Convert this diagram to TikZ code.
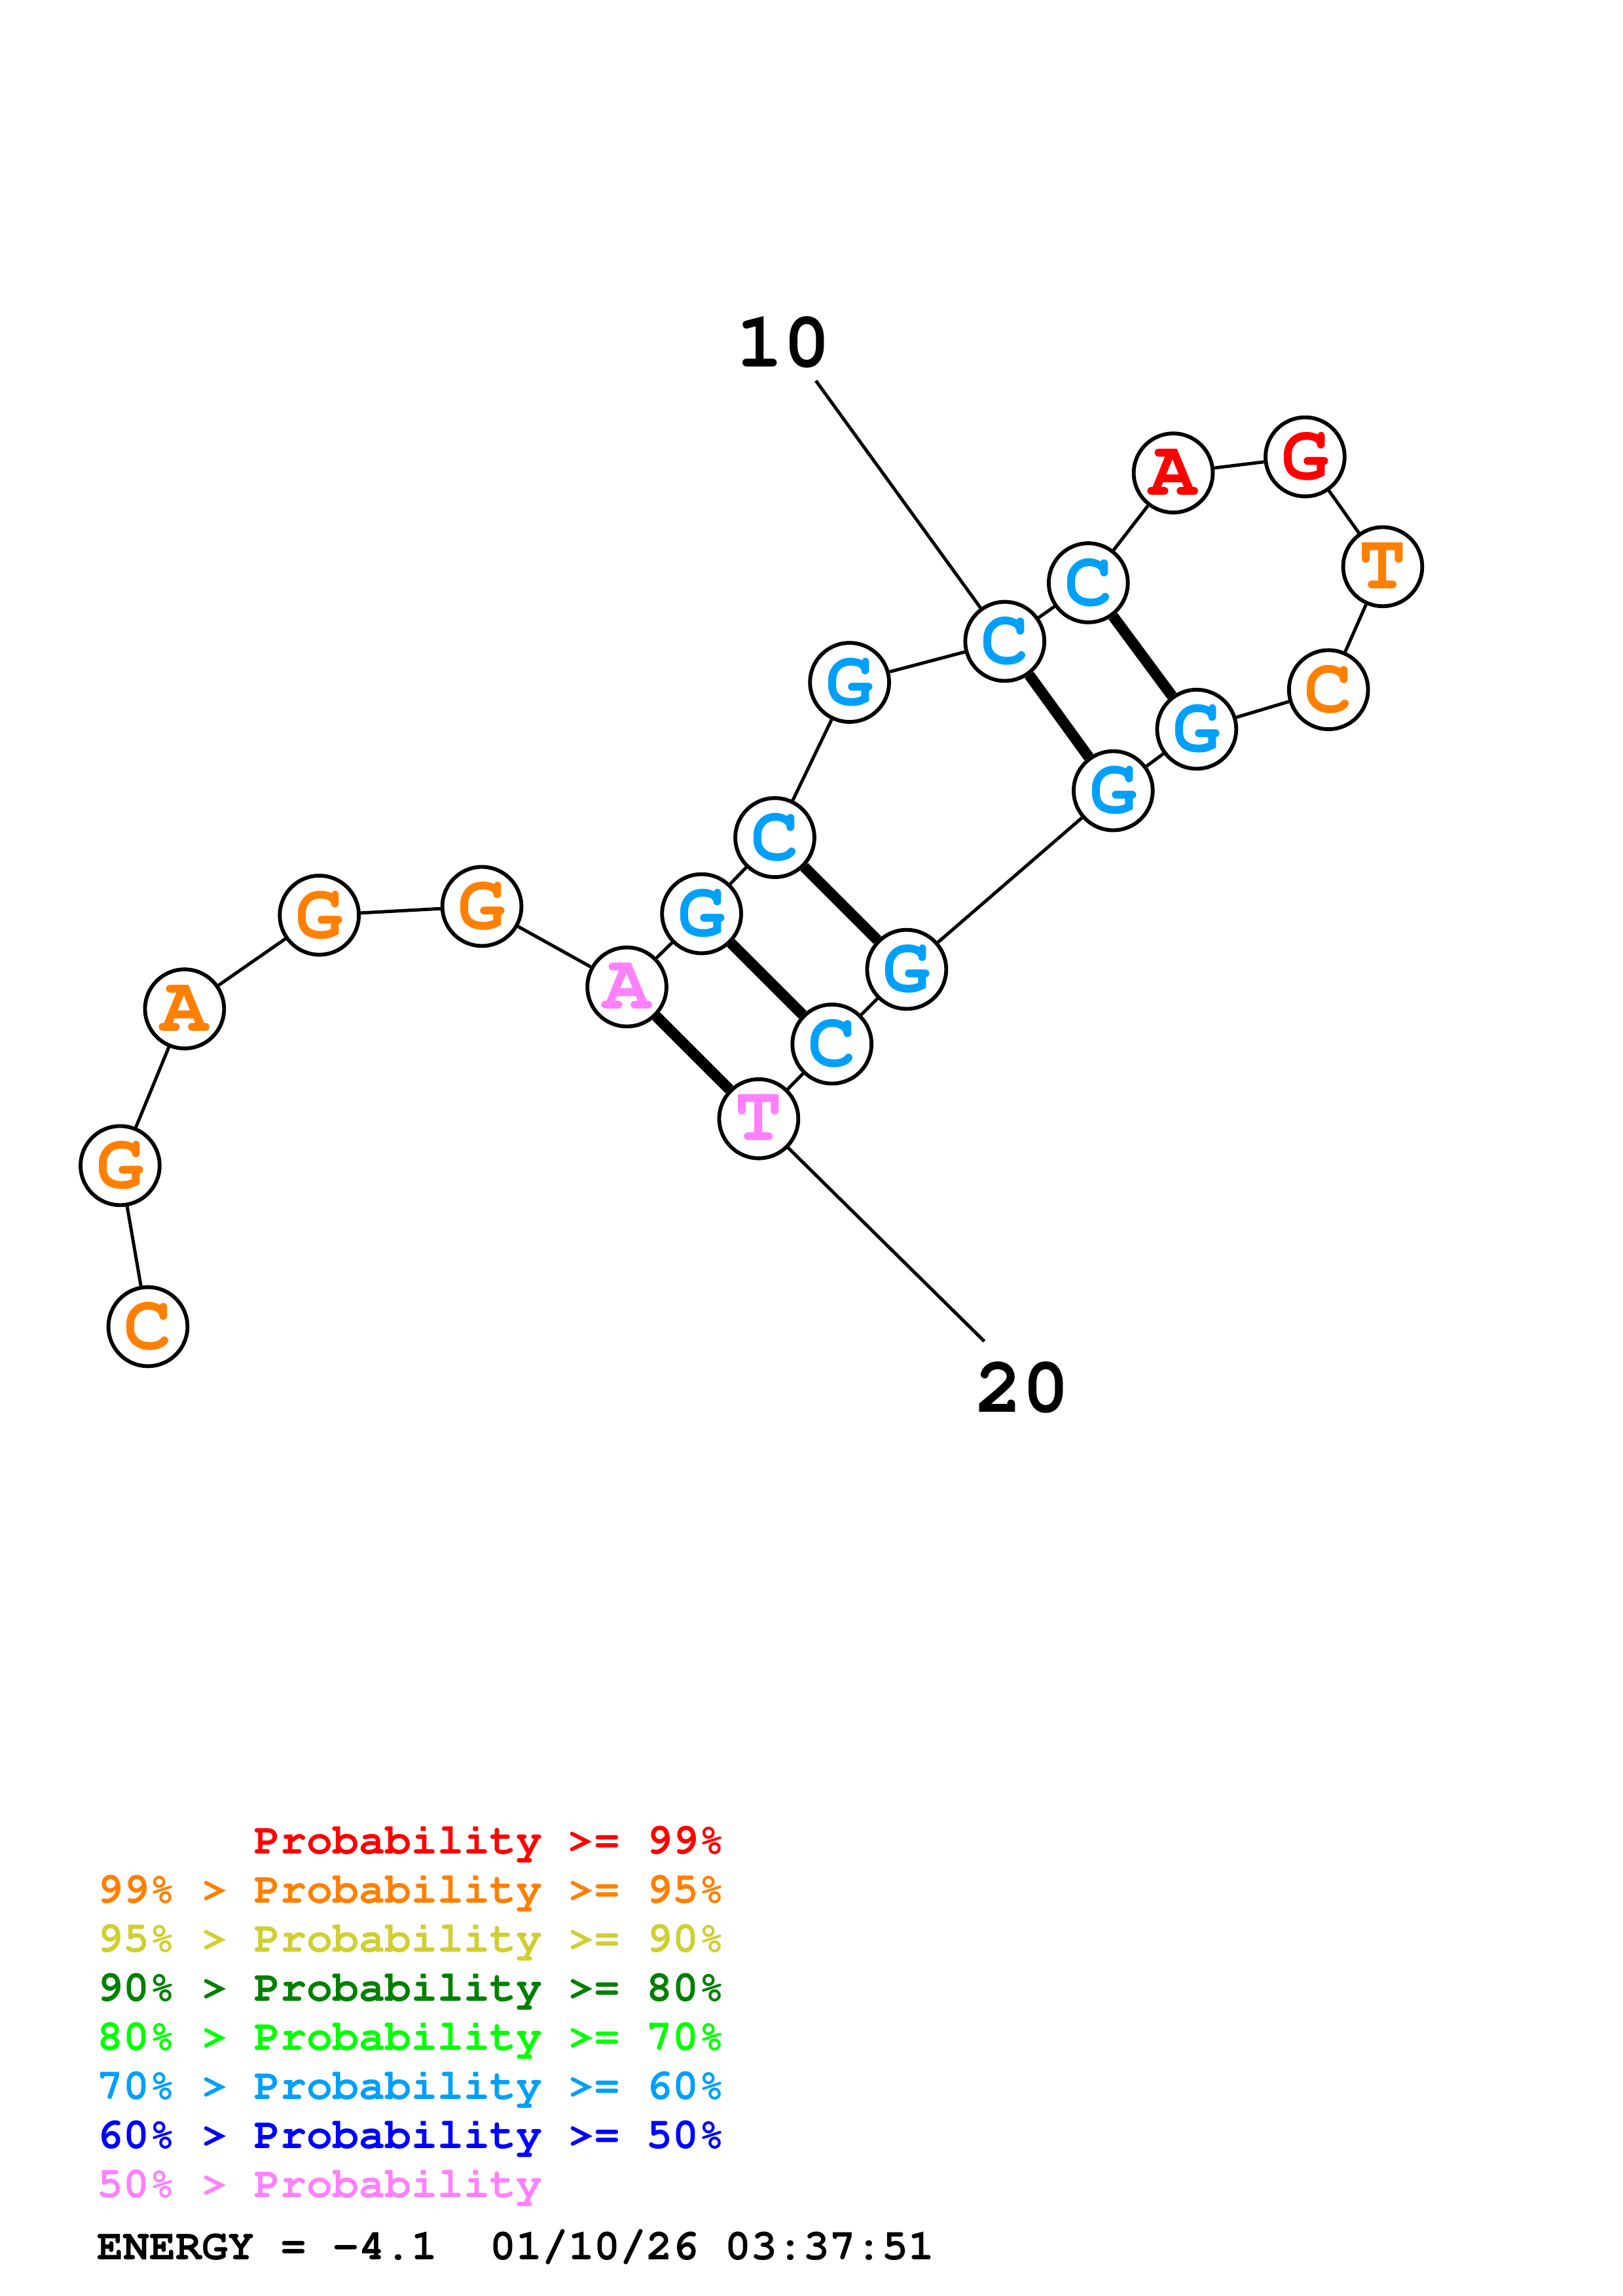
\documentclass[tikz,border=0pt]{standalone}
\usepackage[T1,TU]{fontenc}
\usepackage{tikz}
\definecolor{pA}{RGB}{255,0,0}
\definecolor{pB}{RGB}{255,128,0}
\definecolor{pC}{RGB}{207,207,51}
\definecolor{pD}{RGB}{0,128,0}
\definecolor{pE}{RGB}{0,255,0}
\definecolor{pF}{RGB}{0,160,250}
\definecolor{pG}{RGB}{0,0,255}
\definecolor{pH}{RGB}{255,128,255}
\newcommand{\cour}[1]{\fontencoding{T1}\fontfamily{pcr}\fontseries{b}\fontsize{#1}{#1}\selectfont}

\begin{document}
\begin{tikzpicture}[x=0.5373pt,y=-0.5373pt,
    base/.style={circle,draw,line width=1.4pt,fill=white,minimum size=29pt,inner sep=0pt,font=\cour{29}},
    bk/.style={line width=1.2pt},
    pair/.style={line width=4pt},
    legend/.style={anchor=base west,inner sep=0pt,font=\cour{16}}]
    \useasboundingbox (0,0) rectangle (1108,1568);
        \node[base,text=pB] (n1) at (101,906) {C};
        \node[base,text=pB] (n2) at (82,796) {G};
        \node[base,text=pB] (n3) at (126,689) {A};
        \node[base,text=pB] (n4) at (218,625) {G};
        \node[base,text=pB] (n5) at (329,619) {G};
        \node[base,text=pH] (n6) at (428,674) {A};
        \node[base,text=pF] (n7) at (479,624) {G};
        \node[base,text=pF] (n8) at (529,572) {C};
        \node[base,text=pF] (n9) at (580,466) {G};
        \node[base,text=pF] (n10) at (686,438) {C};
        \node[base,text=pF] (n11) at (743,398) {C};
        \node[base,text=pA] (n12) at (801,323) {A};
        \node[base,text=pA] (n13) at (891,312) {G};
        \node[base,text=pB] (n14) at (944,387) {T};
        \node[base,text=pB] (n15) at (907,471) {C};
        \node[base,text=pF] (n16) at (817,498) {G};
        \node[base,text=pF] (n17) at (760,540) {G};
        \node[base,text=pF] (n18) at (619,662) {G};
        \node[base,text=pF] (n19) at (568,713) {C};
        \node[base,text=pH] (n20) at (518,764) {T};
        \node[font=\cour{29}] (l10) at (535,234) {10};
        \node[font=\cour{29}] (l20) at (698,948) {20};
        \coordinate (t10) at (557,260);
        \coordinate (t20) at (672,916);
        \draw[bk] (n1) -- (n2) -- (n3) -- (n4) -- (n5) -- (n6) -- (n7) -- (n8) -- (n9) -- (n10);
        \draw[bk] (n10) -- (n11) -- (n12) -- (n13) -- (n14) -- (n15) -- (n16) -- (n17) -- (n18) -- (n19) -- (n20);
        \draw[pair] (n6) -- (n20);
        \draw[pair] (n7) -- (n19);
        \draw[pair] (n8) -- (n18);
        \draw[pair] (n10) -- (n17);
        \draw[pair] (n11) -- (n16);
        \draw[bk] (t10) -- (n10);
        \draw[bk] (n20) -- (t20);
        \node[legend,text=pA] (r1) at (66,1266) {\phantom{99\% > }Probability >= 99\%};
        \node[legend,text=pB] (r2) at (66,1299.5) {99\% > Probability >= 95\%};
        \node[legend,text=pC] (r3) at (66,1333) {95\% > Probability >= 90\%};
        \node[legend,text=pD] (r4) at (66,1366.5) {90\% > Probability >= 80\%};
        \node[legend,text=pE] (r5) at (66,1400) {80\% > Probability >= 70\%};
        \node[legend,text=pF] (r6) at (66,1433.5) {70\% > Probability >= 60\%};
        \node[legend,text=pG] (r7) at (66,1467) {60\% > Probability >= 50\%};
        \node[legend,text=pH] (r8) at (66,1500.5) {50\% > Probability};
        \node[legend] (en) at (66,1543) {ENERGY = -4.1\ \ 01/10/26 03:37:51};
    \end{tikzpicture}
\end{document}
